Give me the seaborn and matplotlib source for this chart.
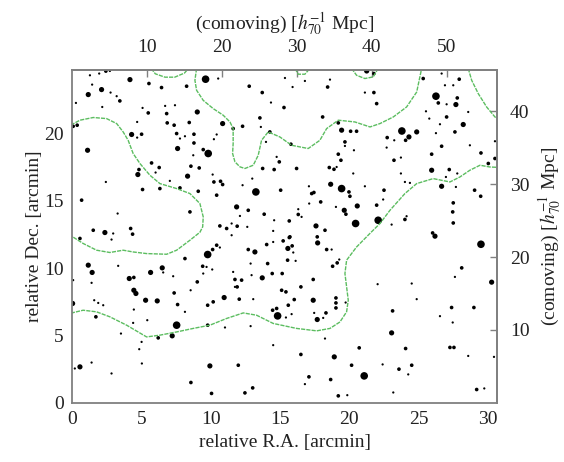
import seaborn as sns
import pandas as pd
import matplotlib.pyplot as plt

# galaxy positions [arcmin], grouped by brightness class (4 = brightest)
ra_4 = [9.63, 9.82, 13.26, 19.45, 23.8, 20.46, 22.09, 26.26, 9.78, 7.54, 14.83, 21.08, 29.51]
dec_4 = [24.0, 18.49, 15.64, 15.89, 20.16, 13.3, 13.54, 22.74, 11.0, 5.76, 6.45, 2.0, 11.76]

ra_3 = [4.17, 2.12, 1.16, 9.03, 10.86, 4.29, 7.61, 1.11, 4.74, 8.33, 11.87, 2.36, 21.26, 19.45,
        24.31, 18.66, 20.58, 19.64, 17.6, 27.7, 28.23, 24.87, 25.95, 26.67, 26.19, 1.16, 1.44, 4.12,
        5.66, 6.5, 4.45, 4.6, 5.3, 6.14, 10.97, 0.03, 7.22, 0.56, 9.94, 17.72, 13.19, 15.57, 13.72,
        17.4, 17.69, 23.06, 18.92, 30.28]
dec_3 = [23.97, 23.23, 22.86, 21.57, 20.71, 19.9, 18.86, 18.73, 16.93, 16.81, 14.53, 12.63, 24.61, 20.22,
         19.72, 16.21, 14.6, 14.28, 13.12, 22.12, 20.64, 20.09, 17.25, 16.06, 12.36, 10.21, 9.67, 9.22,
         9.67, 10.01, 8.35, 8.11, 7.61, 7.56, 7.81, 7.37, 4.97, 2.67, 2.74, 11.86, 11.19, 11.45, 9.27,
         7.61, 6.18, 5.19, 3.41, 8.95]

ra_2 = [2.43, 3.44, 5.54, 6.45, 8.26, 11.62, 6.82, 5.49, 6.86, 7.36, 8.45, 5.01, 7.54, 8.79, 8.79,
        9.46, 5.73, 6.28, 4.82, 8.57, 9.17, 10.23, 10.71, 10.86, 10.43, 7.78, 6.33, 5.08, 9.1, 0.68,
        8.5, 4.22, 4.36, 10.66, 11.15, 0.56, 0.07, 0.36,
        21.78, 12.78, 13.72, 18.44, 21.78, 21.98, 15.29, 18.08, 13.55, 19.21, 20.1, 20.53, 12.3, 14.27,
        15.79, 19.69, 19.21, 19.4, 24.07, 22.74, 23.23, 14.95, 13.75, 14.58, 16.2, 18.56, 18.9, 15.05,
        19.98, 17.29, 17.45, 17.94, 20.05, 21.98, 12.71, 13.86, 16.32, 15.67, 19.76, 18.25, 11.91, 15.72,
        25.34, 27.94, 26.43, 27.8, 27.03, 27.63, 26.67, 25.95, 29.51, 30.52, 27.22, 30.04, 22.51, 29.05,
        29.49, 27.51, 24.02, 27.47, 26.02, 27.51,
        1.52, 10.43, 10.14, 4.45, 7.36, 7.61, 8.14, 9.03, 9.42, 11.75, 10.18, 9.78, 12.06, 1.71, 6.21,
        9.78, 11.99, 8.57, 10.06,
        15.67, 15.23, 15.88, 14.04, 17.69, 18.37, 12.71, 15.55, 14.11, 14.44, 15.16, 12.23, 11.91, 17.4,
        18.8, 19.13, 15.12, 15.43, 16.51, 16.03, 19.04, 19.04, 19.04, 15.6, 14.47, 14.76, 18.32, 23.13,
        16.51, 20.72, 24.07, 20.17, 23.59, 17.09, 18.66, 13.03, 12.47, 19.21,
        28.12, 27.39, 29.0, 27.27, 27.56, 24.51, 29.2]
dec_2 = [24.6, 22.39, 23.68, 23.38, 23.48, 20.34, 21.45, 21.5, 20.76, 20.59, 20.79, 19.92, 19.97, 19.92, 19.27,
         18.78, 17.79, 17.45, 17.3, 17.55, 17.42, 16.38, 16.43, 16.19, 15.4, 15.94, 15.89, 15.82, 15.69, 15.03,
         14.16, 12.93, 12.51, 13.12, 12.93, 12.19, 20.51, 20.59,
         24.42, 23.48, 23.01, 23.42, 23.01, 22.19, 21.9, 21.2, 21.13, 20.76, 20.14, 20.14, 20.51, 20.09,
         19.18, 19.35, 18.44, 17.99, 19.47, 19.67, 17.99, 17.87, 17.38, 17.3, 17.38, 17.45, 17.32, 15.77,
         15.64, 15.52, 15.6, 14.9, 15.32, 14.66, 14.28, 13.99, 13.97, 13.49, 13.99, 12.8, 13.1, 12.31,
         24.05, 24.0, 22.24, 22.61, 21.2, 20.09, 19.03, 18.44, 18.53, 18.12, 17.3, 17.75, 15.77, 15.77,
         15.32, 14.83, 13.6, 14.16, 12.6, 13.34,
         12.8, 11.69, 11.37, 9.3, 8.15, 7.29, 10.7, 8.97, 10.13, 9.15, 7.49, 7.24, 7.69, 6.38, 4.82,
         5.76, 2.79, 1.51, 0.7,
         12.26, 12.01, 11.64, 11.74, 12.31, 11.37, 11.37, 10.58, 10.33, 9.59, 9.59, 9.1, 8.6, 9.15,
         10.13, 10.38, 8.35, 8.23, 8.6, 7.66, 7.78, 7.41, 7.04, 7.24, 6.87, 7.0, 6.67, 6.82,
         3.59, 4.08, 4.03, 2.79, 2.5, 1.93, 1.73, 1.11, 0.74, 0.52,
         10.01, 7.07, 7.07, 4.11, 4.11, 2.79, 0.99]

ra_1 = [1.28, 10.54, 7.42, 6.71, 5.08, 4.69, 4.69, 7.78, 8.14, 10.43, 10.23, 8.74, 6.02, 10.14, 2.43,
        7.05, 3.28, 2.96, 11.51, 11.51, 1.44, 0.27, 2.17, 3.21, 2.77, 1.95, 2.72,
        15.91, 18.61, 16.8, 15.36, 21.13, 14.35, 13.62, 13.99, 19.69, 20.34, 23.25, 22.7, 23.73, 23.73,
        14.76, 19.09, 20.29, 13.0, 12.3, 17.09, 21.13, 17.11, 19.04, 22.45, 12.11, 16.32, 16.56, 14.58,
        14.51, 23.06, 24.14,
        26.67, 27.51, 26.91, 27.03, 28.59, 25.54, 25.78, 26.55, 26.26, 28.71, 30.52, 26.98, 27.8, 27.7,
        24.02, 24.38,
        2.84, 10.66, 0.07, 1.4, 3.32, 6.57, 7.29, 8.55, 8.14, 9.7, 10.11, 9.46, 11.62, 11.75, 1.59,
        1.88, 2.24, 4.45, 5.42, 4.4, 3.52, 11.03, 5.01, 4.84, 5.03, 0.19, 1.4, 2.84,
        12.64, 14.51, 18.73, 15.96, 16.13, 12.88, 12.95, 19.28, 13.07, 19.74, 15.43, 15.84, 17.47, 18.12,
        12.88, 18.25, 22.05, 14.51, 22.41, 16.8, 19.86, 23.18,
        27.63, 24.51, 24.87, 26.55, 27.47, 28.59, 30.45, 24.26, 29.75]
dec_1 = [24.29, 24.05, 22.07, 22.02, 21.87, 20.83, 19.67, 19.6, 19.77, 19.9, 19.55, 18.36, 17.08, 16.93, 16.38,
         16.46, 14.04, 12.56, 13.3, 12.43, 23.6, 22.24, 21.94, 22.74, 23.01, 24.42, 24.61,
         23.42, 23.97, 23.87, 24.09, 23.01, 22.27, 20.46, 19.35, 19.05, 18.73, 19.47, 18.93, 18.19, 17.01,
         18.24, 17.49, 17.01, 16.63, 16.14, 16.06, 16.06, 14.78, 14.53, 15.08, 13.86, 14.36, 13.79, 13.54,
         12.75, 13.22, 13.84,
         24.42, 23.55, 23.55, 22.14, 21.57, 21.62, 21.08, 20.66, 20.0, 19.1, 19.4, 16.75, 17.01, 16.01,
         16.38, 16.31,
         12.11, 11.52, 9.1, 8.9, 10.16, 9.67, 9.39, 8.35, 6.75, 10.08, 9.89, 9.59, 9.71, 8.6, 7.61,
         7.41, 7.24, 6.92, 6.13, 5.93, 5.14, 5.59, 4.52, 3.98, 2.92, 2.55, 2.99, 2.18,
         13.05, 11.93, 11.37, 11.15, 10.53, 10.33, 9.47, 10.63, 7.69, 7.44, 6.33, 6.58, 6.67, 6.3,
         5.69, 4.77, 8.8, 4.28, 2.85, 1.39, 0.57, 0.77,
         9.34, 8.85, 7.69, 6.43, 5.96, 3.48, 3.41, 2.11, 1.07]

# density contours [arcmin]
contours = {
    "a": ([5.7, 6.0, 6.7, 7.4, 8.1, 8.4],
          [24.8, 24.4, 24.15, 24.15, 24.45, 24.8]),
    "b": ([8.98, 8.86, 8.98, 9.46, 10.18, 10.9, 11.39, 11.62, 11.62, 11.58, 11.75, 12.11, 12.47, 13.07,
           13.43, 13.67, 14.15, 14.99, 15.84, 17.04, 17.88, 18.37, 19.21, 20.41, 21.5, 22.22, 23.18,
           24.14, 24.87, 25.1, 25.23],
          [24.8, 23.92, 23.18, 22.43, 21.82, 21.33, 20.83, 20.34, 19.23, 18.49, 17.87, 17.5, 17.38, 17.62,
           18.36, 19.47, 20.09, 19.72, 19.1, 18.86, 19.47, 20.34, 20.96, 20.83, 20.46, 20.71, 21.2,
           21.94, 23.05, 24.17, 24.8]),
    "c": ([28.59, 28.84, 29.31, 29.92, 30.52, 31.0],
          [24.8, 23.92, 22.94, 21.94, 21.2, 20.85]),
    "d": ([20.17, 20.53, 21.13, 21.73, 22.09],
          [24.8, 24.29, 24.05, 24.17, 24.8]),
    "e": ([16.08, 16.32, 16.8, 17.16],
          [24.8, 24.37, 24.37, 24.8]),
    "f": ([-0.1, 0.56, 1.52, 2.48, 3.21, 3.68, 4.04, 4.4, 4.89, 5.61, 6.33, 7.54, 8.5, 9.22, 9.46, 9.42,
           9.22, 8.5, 7.54, 6.82, 5.37, 4.4, 3.68, 2.72, 1.76, 0.79, -0.1],
          [20.6, 20.96, 21.16, 21.08, 20.71, 20.09, 19.47, 18.49, 17.75, 16.88, 16.26, 15.89, 15.52, 14.78,
           13.79, 13.05, 12.65, 12.06, 11.32, 11.02, 11.07, 11.19, 11.32, 11.15, 11.32, 11.82, 12.4]),
    "g": ([-0.1, 0.79, 1.76, 2.72, 3.93, 5.37, 6.33, 7.54, 8.74, 9.94, 11.15, 12.35, 13.31, 14.51, 16.2,
           17.65, 18.61, 19.33, 19.81, 19.93, 19.81, 19.69, 19.81, 20.53, 21.49, 22.22, 22.94, 24.02,
           24.87, 26.06, 27.27, 27.99, 28.71, 29.44, 30.16, 31.0],
          [6.65, 6.87, 6.75, 6.38, 5.76, 4.89, 5.02, 5.26, 5.52, 5.76, 6.26, 6.67, 6.5, 5.89, 5.52,
           5.34, 5.52, 6.0, 6.75, 7.61, 8.6, 9.59, 10.58, 11.56, 12.56, 13.3, 14.28, 15.52,
           16.26, 16.63, 16.38, 16.75, 17.25, 17.62, 17.49, 17.45]),
}

MPC_PER_ARCMIN = 1.85

gal = pd.concat([
    pd.DataFrame({"ra": ra_4, "dec": dec_4, "cls": 4}),
    pd.DataFrame({"ra": ra_3, "dec": dec_3, "cls": 3}),
    pd.DataFrame({"ra": ra_2, "dec": dec_2, "cls": 2}),
    pd.DataFrame({"ra": ra_1, "dec": dec_1, "cls": 1}),
], ignore_index=True)

sns.set_style("white")
plt.rcParams["font.family"] = ["Liberation Serif", "DejaVu Serif"]
plt.rcParams["mathtext.fontset"] = "stix"

fig, ax = plt.subplots(figsize=(5.64, 4.62), dpi=100)
fig.subplots_adjust(left=0.128, right=0.882, bottom=0.128, top=0.849)

for name, (cx, cy) in contours.items():
    sns.lineplot(x=cx, y=cy, sort=False, ax=ax, color="#5cbd60", lw=1.0,
                 linestyle=(0, (3, 0.8)), estimator=None)

sns.scatterplot(data=gal, x="ra", y="dec", size="cls", sizes={1: 2.6, 2: 7, 3: 14, 4: 30},
                color="black", linewidth=0, legend=False, ax=ax)

ax.set_xlim(0, 30.7)
ax.set_ylim(0, 24.7)
ax.set_xticks([0, 5, 10, 15, 20, 25, 30])
ax.set_yticks([0, 5, 10, 15, 20])
ax.set_xlabel("relative R.A. [arcmin]", fontsize=14, color="#222222", labelpad=4)
ax.set_ylabel("relative Dec. [arcmin]", fontsize=14, color="#222222", labelpad=1)

tick_kw = dict(direction="in", length=5, width=1, color="#808080", labelsize=14,
               labelcolor="#222222", pad=6)
ax.tick_params(**tick_kw)

top = ax.secondary_xaxis("top", functions=(lambda v: v * MPC_PER_ARCMIN,
                                           lambda v: v / MPC_PER_ARCMIN))
top.set_xticks([10, 20, 30, 40, 50])
top.tick_params(**dict(tick_kw, pad=10))
top.set_xlabel("(comoving) [$h_{70}^{-1}$ Mpc]", fontsize=14, color="#222222", labelpad=6)

right = ax.secondary_yaxis("right", functions=(lambda v: v * MPC_PER_ARCMIN,
                                               lambda v: v / MPC_PER_ARCMIN))
right.set_yticks([10, 20, 30, 40])
right.tick_params(**dict(tick_kw, pad=9))
right.set_ylabel("(comoving) [$h_{70}^{-1}$ Mpc]", fontsize=14, color="#222222", labelpad=5)

for sp in list(ax.spines.values()) + list(top.spines.values()) + list(right.spines.values()):
    sp.set_color("#808080")
    sp.set_linewidth(1.3)

fig.savefig("out.png", dpi=100)
